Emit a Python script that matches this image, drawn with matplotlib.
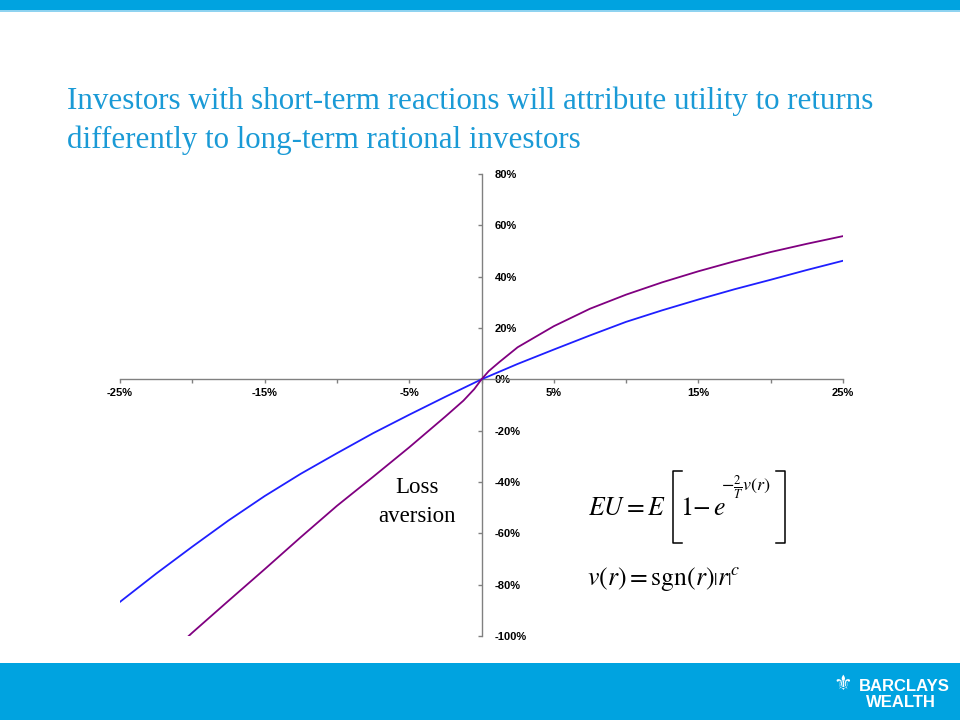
import matplotlib
matplotlib.use("Agg")
import matplotlib.pyplot as plt
from matplotlib.lines import Line2D
from matplotlib.patches import Rectangle
from matplotlib.ticker import FuncFormatter

# Returns (%) and utility (%).
rational_x = [-25, -22.5, -20, -17.5, -15, -12.5, -10, -7.5, -5, -2.5, 0,
              2.5, 5, 7.5, 10, 12.5, 15, 17.5, 20, 22.5, 25]
rational_y = [-86.7, -75.7, -65.2, -55.0, -45.5, -36.8, -28.8, -21.0, -13.8, -6.8, 0,
              6.0, 11.6, 17.1, 22.4, 26.9, 31.1, 35.1, 38.8, 42.6, 46.2]

short_x = [-20.25, -20, -17.5, -15, -12.5, -10, -7.5, -5, -2.5, -1.25, -0.5, 0,
           0.5, 1.25, 2.5, 5, 7.5, 10, 12.5, 15, 17.5, 20, 22.5, 25]
short_y = [-100.0, -98.7, -86.3, -74.0, -61.5, -49.3, -38.0, -26.5, -14.5, -8.3, -3.8, 0,
           3.2, 6.8, 12.5, 20.7, 27.5, 33.0, 37.8, 42.1, 46.0, 49.6, 52.8, 55.8]

x_ticks = [-25, -20, -15, -10, -5, 0, 5, 10, 15, 20, 25]
x_labelled = [-25, -15, -5, 5, 15, 25]
y_ticks = [-100, -80, -60, -40, -20, 0, 20, 40, 60, 80]

TITLE_1 = "Investors with short-term reactions will attribute utility to returns"
TITLE_2 = "differently to long-term rational investors"
BAND = "#00a3e0"
TITLE_COLOR = "#1a9ad6"

W, H = 960, 720


def px(x, y):
    # pixel position (from top-left) -> figure fraction
    return x / W, 1 - y / H


plt.rcParams["mathtext.fontset"] = "stix"
fig = plt.figure(figsize=(9.6, 7.2), dpi=100)
fig.patch.set_facecolor("white")

# slide furniture
fig.add_artist(Rectangle(px(0, 10), 1, 10 / H, transform=fig.transFigure, color=BAND, lw=0))
fig.add_artist(Rectangle(px(0, 12), 1, 2 / H, transform=fig.transFigure, color="#8fd3f0", lw=0))
fig.add_artist(Rectangle((0, 0), 1, 57 / H, transform=fig.transFigure, color=BAND, lw=0))
fig.text(*px(859, 691), "BARCLAYS", ha="left", va="baseline", color="white",
         fontsize=12, fontweight="bold", family="Liberation Sans")
fig.text(*px(866, 707), "WEALTH", ha="left", va="baseline", color="white",
         fontsize=12, fontweight="bold", family="Liberation Sans")
fig.text(*px(843, 684), "\u269c", ha="center", va="center", color="white",
         fontsize=15, family="DejaVu Sans")

fig.text(*px(67, 109), TITLE_1, ha="left", va="baseline", color=TITLE_COLOR,
         fontsize=22.3, family="Liberation Serif")
fig.text(*px(67, 148), TITLE_2, ha="left", va="baseline", color=TITLE_COLOR,
         fontsize=22.3, family="Liberation Serif")

ax = fig.add_axes([120 / W, 1 - 636 / H, 723 / W, 462 / H])
ax.plot(rational_x, rational_y, color="#1f1fff", lw=1.3, zorder=3)
ax.plot(short_x, short_y, color="#800080", lw=1.3, zorder=3)

ax.set_xlim(-25, 25)
ax.set_ylim(-100, 80)
ax.spines["top"].set_visible(False)
ax.spines["left"].set_position(("data", 0))
ax.spines["right"].set_position(("data", 0))
ax.spines["right"].set_visible(False)
ax.spines["bottom"].set_position(("data", 0))
for s in ("left", "bottom"):
    ax.spines[s].set_color("#808080")
    ax.spines[s].set_linewidth(1.0)

ax.set_xticks(x_ticks)
ax.xaxis.set_major_formatter(FuncFormatter(
    lambda v, p: f"{v:.0f}%" if round(v) in x_labelled else ""))
ax.set_yticks(y_ticks)
ax.yaxis.set_major_formatter(FuncFormatter(lambda v, p: f"{v:.0f}%"))
ax.tick_params(axis="x", direction="out", length=3, width=1, color="#808080", pad=3,
               labelsize=8)
ax.tick_params(axis="y", direction="out", length=3, width=1, color="#808080", pad=6.5,
               left=True, right=False, labelleft=False, labelright=True, labelsize=8)
for lab in ax.get_xticklabels() + ax.get_yticklabels():
    lab.set_fontweight("bold")
    lab.set_family("Liberation Sans")

# annotations
fig.text(*px(417, 493), "Loss", ha="center", va="baseline", fontsize=16.5,
         family="Liberation Serif")
fig.text(*px(417, 522), "aversion", ha="center", va="baseline", fontsize=16.5,
         family="Liberation Serif")

fig.text(*px(588, 515), r"$EU = E$", ha="left", va="baseline", fontsize=18.5)
fig.text(*px(680, 515), r"$1{-}\,e$", ha="left", va="baseline", fontsize=18.5)
fig.text(*px(721, 491), r"$-\frac{2}{T}v(r)$", ha="left", va="baseline", fontsize=13)
for xs in ((682, 673, 673, 682), (776, 785, 785, 776)):
    bx = [x / W for x in xs]
    by = [1 - y / H for y in (471, 471, 543, 543)]
    fig.add_artist(Line2D(bx, by, transform=fig.transFigure, color="black", lw=1.1))
fig.text(*px(587, 585), r"$v(r) = \mathrm{sgn}(r)\left|r\right|^{c}$", ha="left",
         va="baseline", fontsize=18.5)

fig.savefig("out.png", dpi=100, facecolor="white")
